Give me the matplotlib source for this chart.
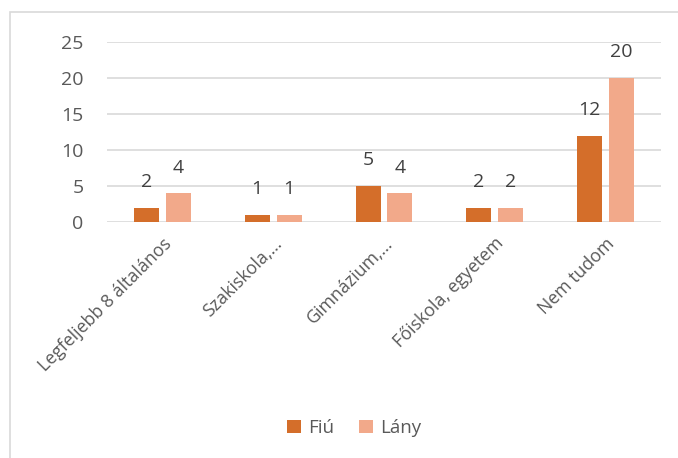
import numpy as np
import matplotlib
matplotlib.use('Agg')
import matplotlib.pyplot as plt
from matplotlib.patches import Rectangle

plt.rcParams['font.family'] = ['Open Sans', 'DejaVu Sans']

categories = ['Legfeljebb 8 általános', 'Szakiskola,...', 'Gimnázium,...',
              'Főiskola, egyetem', 'Nem tudom']
fiu = [2, 1, 5, 2, 12]
lany = [4, 1, 4, 2, 20]
yticks = [0, 5, 10, 15, 20, 25]

C_FIU = '#D46E2A'
C_LANY = '#F2A98A'
TXT = '#595959'
GRID = '#D9D9D9'

fig = plt.figure(figsize=(6.78, 4.58), dpi=100)
fig.patches.append(Rectangle((10/678, -0.1), 1.2, 1 - 12/458 + 0.1, transform=fig.transFigure,
                             fill=False, edgecolor=GRID, linewidth=1.2))
ax = fig.add_axes([107/678, 1 - 222/458, (661 - 107)/678, 180/458])

x = np.arange(len(categories))
w = 0.226
off = 0.144
b1 = ax.bar(x - off, fiu, w, color=C_FIU, label='Fiú', zorder=3)
b2 = ax.bar(x + off, lany, w, color=C_LANY, label='Lány', zorder=3)
for bars, vals in ((b1, fiu), (b2, lany)):
    for bar, v in zip(bars, vals):
        ax.annotate(str(v), (bar.get_x() + bar.get_width()/2, v), xytext=(0, 12),
                    textcoords='offset points', ha='center', va='bottom',
                    fontsize=14, color='#404040')

ax.set_xlim(-0.5, len(categories) - 0.5)
ax.set_ylim(0, 25)
ax.set_yticks(yticks)
ax.set_yticklabels([str(t) for t in yticks], fontsize=14, color=TXT)
ax.set_xticks(x)
ax.set_xticklabels(categories, rotation=45, ha='right', rotation_mode='anchor',
                   fontsize=12.8, color=TXT)
ax.tick_params(axis='both', length=0)
ax.tick_params(axis='y', pad=17)
ax.tick_params(axis='x', pad=9)
ax.grid(True, axis='y', color=GRID, linewidth=1.2, zorder=0)
for s in ax.spines.values():
    s.set_visible(False)

fig.legend(handles=[b1, b2], labels=['Fiú', 'Lány'], loc='center', bbox_to_anchor=(354/678, 1 - 428/458),
           ncol=2, frameon=False, fontsize=13.5, labelcolor=TXT, handlelength=0.75, handleheight=0.75,
           handletextpad=0.4, columnspacing=1.3)

fig.savefig('out.png', dpi=100)
